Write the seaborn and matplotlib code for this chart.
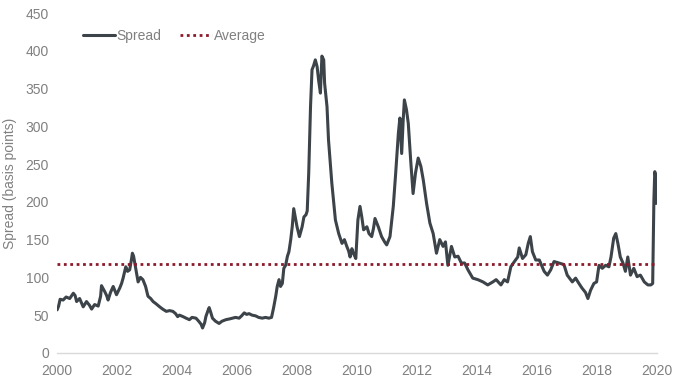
import pandas as pd
import seaborn as sns
import matplotlib.pyplot as plt

# spread in basis points
years = [
    2000.00, 2000.05, 2000.10, 2000.20, 2000.30, 2000.42, 2000.54, 2000.60, 2000.65, 2000.75,
    2000.87, 2000.98, 2001.08, 2001.15, 2001.25, 2001.37, 2001.45, 2001.48, 2001.55, 2001.59,
    2001.65, 2001.70, 2001.78, 2001.87, 2001.93, 2001.98, 2002.09, 2002.15, 2002.20, 2002.29,
    2002.35, 2002.42, 2002.48, 2002.51, 2002.55, 2002.59, 2002.65, 2002.70, 2002.78, 2002.86,
    2002.95, 2003.03, 2003.12, 2003.20, 2003.30, 2003.42, 2003.52, 2003.64, 2003.75, 2003.86,
    2003.95, 2004.02, 2004.08, 2004.20, 2004.30, 2004.41, 2004.50, 2004.63, 2004.72, 2004.80,
    2004.85, 2004.92, 2004.96, 2005.03, 2005.07, 2005.12, 2005.18, 2005.28, 2005.40, 2005.50,
    2005.63, 2005.75, 2005.85, 2005.95, 2006.07, 2006.15, 2006.24, 2006.32, 2006.40, 2006.50,
    2006.62, 2006.72, 2006.84, 2006.95, 2007.06, 2007.15, 2007.22, 2007.29, 2007.34, 2007.40,
    2007.45, 2007.51, 2007.56, 2007.62, 2007.68, 2007.73, 2007.79, 2007.84, 2007.89, 2007.94,
    2008.00, 2008.08, 2008.12, 2008.17, 2008.23, 2008.30, 2008.34, 2008.39, 2008.45, 2008.50,
    2008.55, 2008.61, 2008.67, 2008.72, 2008.78, 2008.83, 2008.89, 2008.92, 2009.00, 2009.05,
    2009.16, 2009.28, 2009.39, 2009.50, 2009.58, 2009.66, 2009.72, 2009.77, 2009.83, 2009.88,
    2009.96, 2010.03, 2010.10, 2010.16, 2010.22, 2010.33, 2010.40, 2010.49, 2010.55, 2010.60,
    2010.66, 2010.71, 2010.82, 2010.92, 2010.99, 2011.10, 2011.21, 2011.29, 2011.38, 2011.43,
    2011.49, 2011.54, 2011.58, 2011.65, 2011.71, 2011.79, 2011.87, 2011.95, 2012.04, 2012.13,
    2012.21, 2012.32, 2012.43, 2012.54, 2012.65, 2012.76, 2012.87, 2012.95, 2013.03, 2013.15,
    2013.26, 2013.37, 2013.48, 2013.59, 2013.70, 2013.86, 2014.03, 2014.20, 2014.36, 2014.53,
    2014.64, 2014.80, 2014.91, 2015.02, 2015.13, 2015.25, 2015.36, 2015.41, 2015.52, 2015.63,
    2015.71, 2015.78, 2015.85, 2015.96, 2016.08, 2016.24, 2016.35, 2016.46, 2016.57, 2016.74,
    2016.90, 2017.01, 2017.18, 2017.29, 2017.40, 2017.50, 2017.62, 2017.70, 2017.79, 2017.90,
    2017.99, 2018.07, 2018.18, 2018.29, 2018.40, 2018.47, 2018.56, 2018.63, 2018.70, 2018.78,
    2018.87, 2018.95, 2019.03, 2019.12, 2019.23, 2019.34, 2019.45, 2019.58, 2019.70, 2019.80,
    2019.86, 2019.90, 2019.93, 2019.96, 2019.98,
]
spread = [
    57, 62, 71, 70, 74, 72, 79, 76, 68, 72,
    61, 68, 63, 58, 64, 62, 75, 89, 84, 81,
    76, 70, 80, 88, 82, 77, 86, 92, 99, 114,
    108, 110, 124, 132, 128, 119, 105, 94, 100, 97,
    88, 75, 72, 68, 65, 61, 58, 55, 56, 55,
    52, 48, 50, 48, 46, 44, 47, 46, 42, 38,
    33, 40, 48, 56, 60, 54, 46, 42, 39, 42,
    44, 45, 46, 47, 46, 49, 53, 51, 52, 50,
    49, 47, 46, 47, 46, 47, 60, 75, 88, 97,
    88, 92, 112, 116, 128, 134, 150, 167, 191, 180,
    167, 154, 160, 167, 180, 183, 188, 238, 326, 375,
    380, 388, 379, 361, 344, 393, 388, 357, 326, 282,
    225, 176, 158, 145, 150, 141, 135, 127, 138, 132,
    125, 176, 194, 180, 163, 167, 158, 154, 165, 178,
    172, 167, 154, 147, 143, 154, 194, 238, 291, 311,
    264, 308, 335, 322, 304, 255, 211, 238, 258, 247,
    229, 198, 172, 158, 132, 150, 141, 147, 116, 141,
    127, 128, 119, 119, 110, 99, 97, 94, 90, 94,
    97, 90, 97, 94, 114, 121, 127, 139, 125, 130,
    145, 154, 134, 123, 123, 108, 103, 110, 121, 119,
    117, 103, 94, 99, 92, 86, 80, 72, 83, 92,
    94, 116, 112, 116, 114, 127, 152, 158, 145, 127,
    119, 108, 127, 103, 112, 101, 103, 94, 90, 90,
    92, 202, 240, 234, 198,
]
average = 118

year_ticks = list(range(2000, 2021, 2))
spread_ticks = list(range(0, 451, 50))

df = pd.DataFrame({"year": years, "spread": spread})

sns.set_style("white")
plt.rcParams["font.family"] = ["Liberation Sans", "DejaVu Sans"]

grey = "#808080"
fig, ax = plt.subplots(figsize=(6.8, 3.84), dpi=100)
fig.subplots_adjust(left=0.084, right=0.966, bottom=0.081, top=0.966)

sns.lineplot(data=df, x="year", y="spread", color="#3c4349", lw=2.2,
             label="Spread", ax=ax)
ax.hlines(average, years[0], years[-1], color="#8b1a2b", lw=2,
          linestyles=(0, (1, 1.3)), label="Average")

ax.set_xlim(2000, 2020)
ax.set_ylim(0, 450)
ax.set_xticks(year_ticks)
ax.set_yticks(spread_ticks)
ax.tick_params(axis="both", length=0, labelsize=10, labelcolor=grey)
ax.tick_params(axis="x", pad=8)
ax.tick_params(axis="y", pad=6)
ax.set_xlabel("")
ax.set_ylabel("Spread (basis points)", fontsize=10, color=grey, labelpad=6)

for side in ["top", "right", "left"]:
    ax.spines[side].set_visible(False)
ax.spines["bottom"].set_color("#d9d9d9")
ax.spines["bottom"].set_linewidth(1)

leg = ax.legend(loc="upper left", bbox_to_anchor=(0.022, 0.99), ncol=2,
                frameon=False, fontsize=10, handlelength=2.3,
                handletextpad=0.1, columnspacing=1.4)
for t in leg.get_texts():
    t.set_color(grey)

plt.savefig("out.png")
